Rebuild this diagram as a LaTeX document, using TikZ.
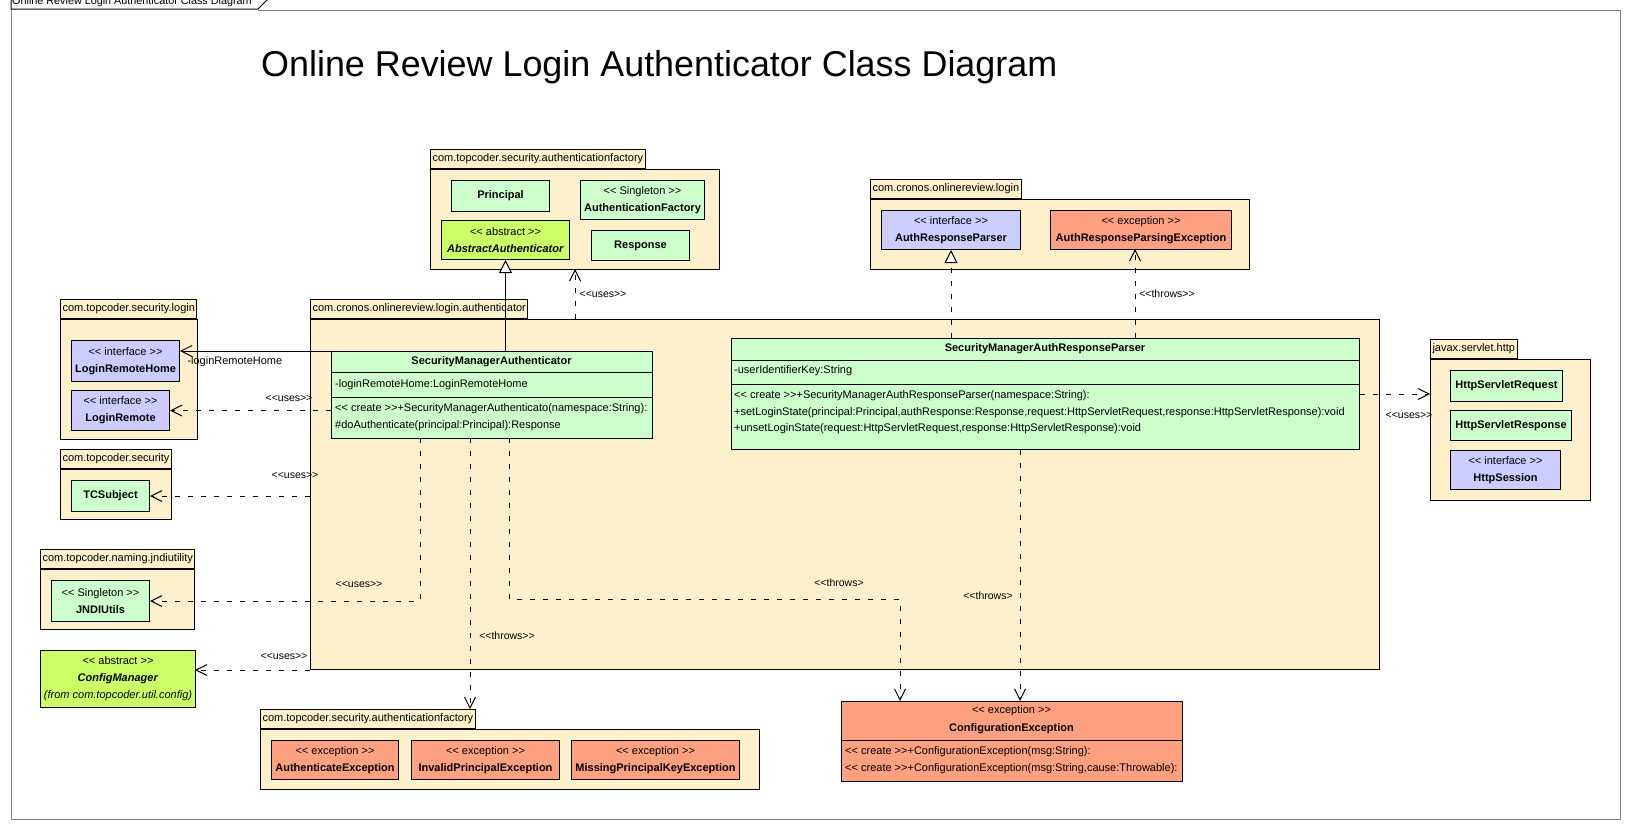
\documentclass[tikz,border=0pt]{standalone}
\usepackage{fontspec}
\setmainfont{Liberation Sans}
\usetikzlibrary{arrows.meta,positioning}

\definecolor{pkgfill}{HTML}{FFF0CC}
\definecolor{clsfill}{HTML}{CCFFCC}
\definecolor{ifacefill}{HTML}{CCCCFF}
\definecolor{excfill}{HTML}{FFA080}
\definecolor{absfill}{HTML}{CCFF66}
\definecolor{framegray}{HTML}{808080}

\newcommand{\sopen}{<\kern0pt<}
\newcommand{\sclose}{>\kern0pt>}
\newcommand{\fsz}[1]{\fontsize{#1}{#1}\selectfont}

\tikzset{
  pkg/.style={draw, fill=pkgfill, line width=1pt, anchor=north west, inner sep=0pt},
  pkgtab/.style={draw, fill=pkgfill, line width=1pt, anchor=south west, inner xsep=2pt, inner ysep=0pt, minimum height=19pt, font=\fsz{11}},
  cls/.style={draw, fill=clsfill, line width=1pt, anchor=north west, inner sep=0pt, align=center, font=\fontsize{11}{17}\selectfont},
  iface/.style={cls, fill=ifacefill},
  excp/.style={cls, fill=excfill},
  absc/.style={cls, fill=absfill},
  member/.style={anchor=west, inner sep=0pt, font=\fsz{11}},
  lbl/.style={inner sep=0pt, font=\fsz{10.5}},
  dep/.style={line width=1pt, dash pattern=on 5pt off 8pt, -{Straight Barb[length=11pt, width=11pt]}},
  assoc/.style={line width=1pt, -{Straight Barb[length=11pt, width=11pt]}},
  real/.style={line width=1pt, -{Triangle[length=13pt, width=13pt, fill=white]}},
  realdash/.style={real, dash pattern=on 5pt off 8pt}
}

\begin{document}
\begin{tikzpicture}[x=1pt, y=-1pt]
\useasboundingbox (0,0) rectangle (1630,830);

% Frame and title
\draw[framegray, line width=1pt] (258,10) -- (1620,10) -- (1620,819) -- (11,819) -- (11,10);
\draw[line width=1pt] (11,-2) -- (11,9) -- (258,9) -- (267,0);
\node[anchor=base west, inner sep=0pt, font=\fsz{10.8}] (frameTitle) at (12,4.5) {Online Review Login Authenticator Class Diagram};
\node[anchor=base west, inner sep=0pt, font=\fsz{35.9}] (title) at (261,76) {Online Review Login Authenticator Class Diagram};

% Packages
\node[pkg, minimum width=289pt, minimum height=100pt] (authFactoryPkg) at (430,169) {};
\node[pkgtab] (authFactoryTab) at (authFactoryPkg.north west) {com.topcoder.security.authenticationfactory};
\node[pkg, minimum width=379pt, minimum height=70pt] (loginPkg) at (870,199) {};
\node[pkgtab] (loginTab) at (loginPkg.north west) {com.cronos.onlinereview.login};
\node[pkg, minimum width=137pt, minimum height=120pt] (secLoginPkg) at (60,319) {};
\node[pkgtab] (secLoginTab) at (secLoginPkg.north west) {com.topcoder.security.login};
\node[pkg, minimum width=111pt, minimum height=50pt] (securityPkg) at (60,469) {};
\node[pkgtab] (securityTab) at (securityPkg.north west) {com.topcoder.security};
\node[pkg, minimum width=154pt, minimum height=60pt] (jndiPkg) at (40,569) {};
\node[pkgtab] (jndiTab) at (jndiPkg.north west) {com.topcoder.naming.jndiutility};
\node[pkg, minimum width=1069pt, minimum height=350pt] (authPkg) at (310,319) {};
\node[pkgtab] (authTab) at (authPkg.north west) {com.cronos.onlinereview.login.authenticator};
\node[pkg, minimum width=160pt, minimum height=141pt] (servletPkg) at (1430,359) {};
\node[pkgtab] (servletTab) at (servletPkg.north west) {javax.servlet.http};
\node[pkg, minimum width=499pt, minimum height=60pt] (excPkg) at (260,729) {};
\node[pkgtab] (excTab) at (excPkg.north west) {com.topcoder.security.authenticationfactory};

% authenticationfactory classes
\node[cls, minimum width=98pt, minimum height=31pt] (principal) at (451,180) {\textbf{Principal}};
\node[cls, minimum width=124pt, minimum height=39pt] (authFactory) at (580,180) {\sopen{} Singleton \sclose\\\textbf{AuthenticationFactory}};
\node[absc, minimum width=128pt, minimum height=39pt] (abstractAuth) at (441,220) {\sopen{} abstract \sclose\\\textbf{\textit{AbstractAuthenticator}}};
\node[cls, minimum width=98pt, minimum height=30pt] (response) at (591,230) {\textbf{Response}};

% onlinereview.login classes
\node[iface, minimum width=139pt, minimum height=39pt] (authParser) at (881,210) {\sopen{} interface \sclose\\\textbf{AuthResponseParser}};
\node[excp, minimum width=181pt, minimum height=39pt] (parsingEx) at (1050,210) {\sopen{} exception \sclose\\\textbf{AuthResponseParsingException}};

% security.login, security, jndiutility, config
\node[iface, minimum width=108pt, minimum height=41pt] (loginRemoteHome) at (71,340) {\sopen{} interface \sclose\\\textbf{LoginRemoteHome}};
\node[iface, minimum width=98pt, minimum height=40pt] (loginRemote) at (71,390) {\sopen{} interface \sclose\\\textbf{LoginRemote}};
\node[cls, minimum width=78pt, minimum height=31pt] (tcSubject) at (71,480) {\textbf{TCSubject}};
\node[cls, minimum width=98pt, minimum height=41pt] (jndiUtils) at (51,580) {\sopen{} Singleton \sclose\\\textbf{JNDIUtils}};
\node[absc, minimum width=155pt, minimum height=57pt] (configManager) at (40,650) {\sopen{} abstract \sclose\\\textbf{\textit{ConfigManager}}\\\textit{(from com.topcoder.util.config)}};

% javax.servlet.http classes
\node[cls, minimum width=112pt, minimum height=31pt] (httpRequest) at (1450,370) {\textbf{HttpServletRequest}};
\node[cls, minimum width=121pt, minimum height=30pt] (httpResponse) at (1450,410) {\textbf{HttpServletResponse}};
\node[iface, minimum width=110pt, minimum height=39pt] (httpSession) at (1450,450) {\sopen{} interface \sclose\\\textbf{HttpSession}};

% exceptions of authenticationfactory
\foreach \x/\w/\nome/\texto in {271/127/authEx/AuthenticateException, 411/148/invalidEx/InvalidPrincipalException, 571/168/missingEx/MissingPrincipalKeyException}
  \node[excp, minimum width=\w pt, minimum height=39pt] (\nome) at (\x,740) {\sopen{} exception \sclose\\\textbf{\texto}};

% ConfigurationException
\node[excp, minimum width=341pt, minimum height=80pt] (configEx) at (841,701) {};
\node[font=\fsz{11}, inner sep=0pt] (configExStereo) at (1011.5,711) {\sopen{} exception \sclose};
\node[font=\bfseries\fsz{11}, inner sep=0pt] (configExName) at (1011.5,729) {ConfigurationException};
\draw[line width=1pt] (841,740) -- (1182,740);
\node[member] (configExOpA) at (845,752) {\sopen{} create \sclose+ConfigurationException(msg:String):};
\node[member] (configExOpB) at (845,769) {\sopen{} create \sclose+ConfigurationException(msg:String,cause:Throwable):};

% SecurityManagerAuthenticator
\node[cls, minimum width=321pt, minimum height=87pt] (sma) at (331,351) {};
\node[font=\bfseries\fsz{11}, inner sep=0pt] (smaName) at (491.5,361.5) {SecurityManagerAuthenticator};
\draw[line width=1pt] (331,372) -- (652,372) (331,397) -- (652,397);
\node[member] (smaAttr) at (335,384.5) {-loginRemoteHome:LoginRemoteHome};
\node[member] (smaOpA) at (335,409) {\sopen{} create \sclose+SecurityManagerAuthenticato(namespace:String):};
\node[member] (smaOpB) at (335,426) {\#doAuthenticate(principal:Principal):Response};

% SecurityManagerAuthResponseParser
\node[cls, minimum width=628pt, minimum height=111pt] (smarp) at (731,338) {};
\node[font=\bfseries\fsz{11}, inner sep=0pt] (smarpName) at (1045,349) {SecurityManagerAuthResponseParser};
\draw[line width=1pt] (731,360) -- (1359,360) (731,384) -- (1359,384);
\node[member] (smarpAttr) at (734,371) {-userIdentifierKey:String};
\node[member] (smarpOpA) at (734,396) {\sopen{} create \sclose+SecurityManagerAuthResponseParser(namespace:String):};
\node[member] (smarpOpB) at (734,413) {+setLoginState(principal:Principal,authResponse:Response,request:HttpServletRequest,response:HttpServletResponse):void};
\node[member] (smarpOpC) at (734,429) {+unsetLoginState(request:HttpServletRequest,response:HttpServletResponse):void};

% Generalisations and association
\draw[real] (sma.north -| abstractAuth.south) -- (abstractAuth.south);
\draw[realdash] (smarp.north -| authParser.south) -- (authParser.south);
\draw[assoc] (sma.north west) -- (sma.north west -| loginRemoteHome.east)
  node[pos=1, anchor=north west, inner sep=0pt, xshift=7pt, yshift=-5pt, font=\fsz{11}] (homeRole) {-loginRemoteHome};

% Dependencies
\coordinate (jndiOut) at (420,438);
\coordinate (cmIn) at (195,670);
\coordinate (excOut) at (470,438);
\coordinate (cfgOutA) at (509,438);
\coordinate (cfgInA) at (900,701);
\coordinate (cfgInB) at (1020,701);
\coordinate (factoryIn) at (575,269);
\coordinate (parsingIn) at (1135,249);
\draw[dep] (loginRemote.east -| sma.west) -- (loginRemote.east);
\draw[dep] (tcSubject.east -| authPkg.west) -- (tcSubject.east);
\draw[dep] (jndiOut) |- (jndiUtils.east);
\draw[dep] (cmIn -| authPkg.west) -- (cmIn);
\draw[dep] (excOut) -- (excOut |- excTab.north);
\draw[dep] (cfgOutA) -- ++(0,161) -| (cfgInA);
\draw[dep] (cfgInB |- smarp.south) -- (cfgInB);
\draw[dep] (smarp.east) -- (smarp.east -| servletPkg.west);
\draw[dep] (factoryIn |- authPkg.north) -- (factoryIn);
\draw[dep] (parsingIn |- smarp.north) -- (parsingIn);

% Stereotype labels
\foreach \x/\y/\nome in {289/398/usesRemote, 295/475/usesSubject, 359/584/usesJndi, 284/656/usesConfig, 603/294/usesFactory, 1409/415/usesServlet}
  \node[lbl] (\nome) at (\x,\y) {\sopen uses\sclose};
\node[lbl] (throwsExc) at (507,636) {\sopen throws\sclose};
\node[lbl] (throwsCfgA) at (839,583) {\sopen throws>};
\node[lbl] (throwsCfgB) at (988,596) {\sopen throws>};
\node[lbl] (throwsParsing) at (1167,294) {\sopen throws\sclose};
\end{tikzpicture}
\end{document}
